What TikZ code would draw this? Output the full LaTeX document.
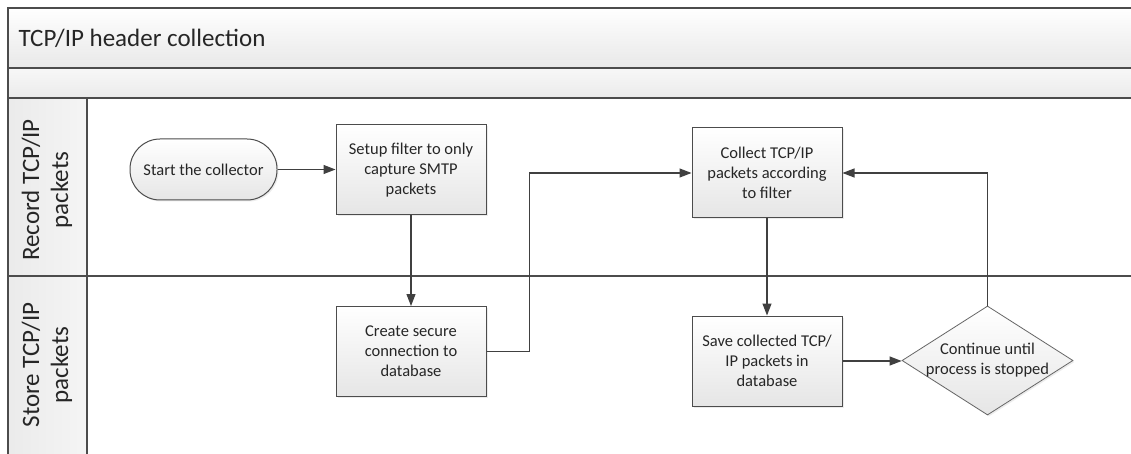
\documentclass[tikz,border=0pt]{standalone}
\usepackage{fontspec}
\setmainfont{Carlito}
\usetikzlibrary{arrows.meta,shapes.geometric,shadows}

\begin{document}
\begin{tikzpicture}[x=1pt,y=-1pt,
  lane/.style={draw=black!70,line width=1.3pt},
  lanetext/.style={rotate=90,align=center,text=black!85,font=\fontsize{25}{29}\selectfont},
  stepbox/.style={draw=black!70,line width=1pt,top color=white,bottom color=black!10,
    minimum width=150pt,minimum height=90pt,inner sep=0pt,align=center,text=black!85,
    font=\fontsize{16.5}{20}\selectfont,
    drop shadow={shadow xshift=1.5pt,shadow yshift=-1.5pt,opacity=0.15}},
  startbox/.style={stepbox,minimum width=147pt,minimum height=61pt,rounded corners=30pt},
  decide/.style={diamond,draw=black!60,line width=0.8pt,top color=white,bottom color=black!10,
    minimum width=171pt,minimum height=109pt,inner sep=0pt,
    drop shadow={shadow xshift=1.5pt,shadow yshift=-1.5pt,opacity=0.15}},
  flow/.style={draw=black!75,line width=1.1pt,-{Triangle[length=12pt,width=9pt]}}]

\useasboundingbox (0,0) rectangle (1131,454);
\fill[white] (0,0) rectangle (1131,454);
\shade[top color=white,bottom color=black!9] (8,8) rectangle (1131,68);
\shade[top color=black!3,bottom color=black!8] (8,68) rectangle (1131,98);
\shade[left color=black!8,right color=black!4] (8,98) rectangle (87,454);

\draw[lane] (8,454) -- (8,8) -- (1131,8);
\draw[lane] (8,68) -- (1131,68);
\draw[lane] (8,98) -- (1131,98);
\draw[lane] (8,276) -- (1131,276);
\draw[lane] (87,98) -- (87,454);

\node[anchor=west,text=black!85,font=\fontsize{25}{29}\selectfont] (title) at (15,38) {TCP/IP header collection};
\node[lanetext] (recordlane) at (47,190) {Record TCP/IP\\packets};
\node[lanetext] (storelane) at (47,365) {Store TCP/IP\\packets};

\node[startbox] (start) at (203.5,169.5) {Start the collector};
\node[stepbox] (setup) at (411,170) {Setup filter to only\\capture SMTP\\packets};
\node[stepbox] (collect) at (767,173) {Collect TCP/IP\\packets according\\to filter};
\node[stepbox] (create) at (411,351.5) {Create secure\\connection to\\database};
\node[stepbox] (save) at (767,361) {Save collected TCP/\\IP packets in\\database};
\node[decide,label={[align=center,text=black!85,font=\fontsize{16.5}{20}\selectfont]center:Continue until\\process is stopped}] (check) at (987.5,360.5) {};

\draw[flow] (start.east) -- (start.east -| setup.west);
\draw[flow] (setup) -- (create);
\draw[flow] (create.east) -- ++(43,0) |- (collect.west);
\draw[flow] (collect) -- (save);
\draw[flow] (save.east) -- (save.east -| check.west);
\draw[flow] (check.north) |- (collect.east);
\end{tikzpicture}
\end{document}
